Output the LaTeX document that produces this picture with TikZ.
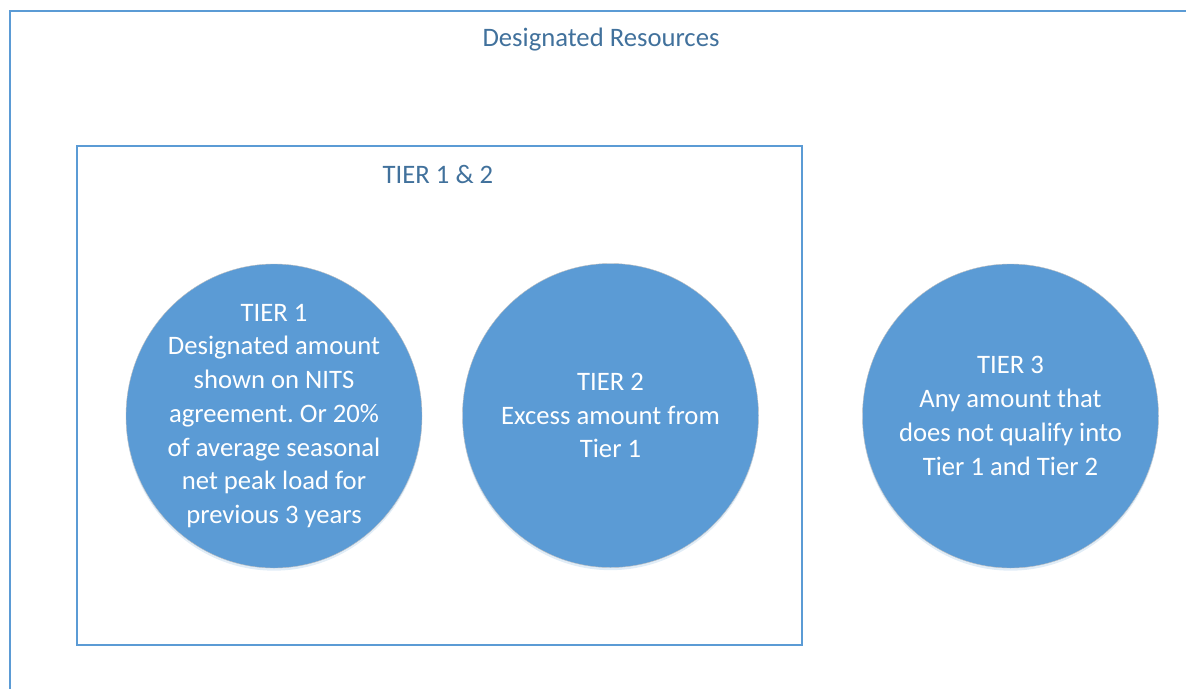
\documentclass[tikz,border=0pt]{standalone}
\usepackage{fontspec}
\setmainfont{Carlito}
\usepackage{xcolor}
\usetikzlibrary{shapes.geometric, shadows}
\definecolor{tierblue}{HTML}{5B9BD5}
\definecolor{titleblue}{HTML}{41719C}
\frenchspacing

\begin{document}
\begin{tikzpicture}[x=0.75pt, y=-0.75pt,
    tierbox/.style={draw=tierblue, line width=1.5pt},
    boxlabel/.style={text=titleblue, font=\fontsize{20}{24}\selectfont},
    tiercircle/.style={ellipse, minimum width=222pt, minimum height=228pt, inner sep=0pt,
    fill=tierblue, draw=black!25, line width=0.3pt,
    drop shadow={shadow xshift=0pt, shadow yshift=-2pt, opacity=0.18, fill=tierblue}},
    tiertext/.style={text=white, align=center, inner sep=0pt, font=\fontsize{20}{25.3}\selectfont}]
    \useasboundingbox (0,0) rectangle (1186,689);
    \clip (0,0) rectangle (1186,689); % outer box runs off the page
    \draw[tierbox] (9.5,10.5) rectangle (1200,700);
    \node[boxlabel] (designated) at (601,39.5) {Designated Resources};
    \draw[tierbox] (76.5,145.5) rectangle (801.5,644.5); % box round tier 1 and 2
    \node[boxlabel] (tiers12) at (438,174) {TIER 1 \& 2};
    \node[tiercircle] (tier1) at (274,416) {};
    \node[tiercircle] (tier2) at (610.5,415.5) {};
    \node[tiercircle] (tier3) at (1010.5,416) {};
    \node[tiertext] (tier1text) at (tier1) {TIER 1\\Designated amount\\shown on NITS\\agreement. Or 20\%\\of average seasonal\\net peak load for\\previous 3 years};
    \node[tiertext] (tier2text) at (tier2) {TIER 2\\Excess amount from\\Tier 1};
    \node[tiertext] (tier3text) at (tier3) {TIER 3\\Any amount that\\does not qualify into\\Tier 1 and Tier 2};
\end{tikzpicture}
\end{document}
